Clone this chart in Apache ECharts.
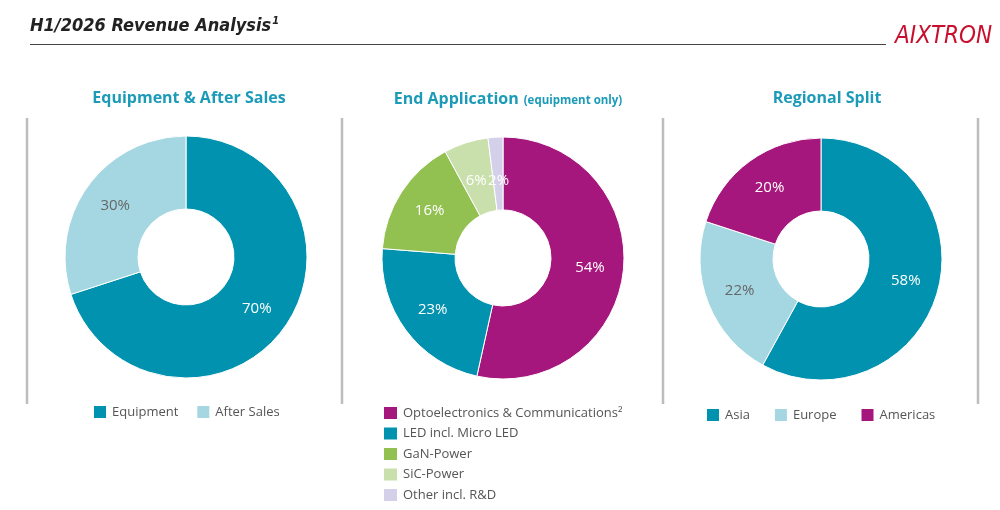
<!DOCTYPE html>
<html>
<head>
<meta charset="utf-8">
<script src="https://cdn.jsdelivr.net/npm/echarts@6/dist/echarts.min.js"></script>
<style>
html,body{margin:0;padding:0;background:#fff;}
#main{width:1000px;height:510px;}
</style>
</head>
<body>
<div id="main"></div>
<script>
// ---- data ----
const salesNames = ['Equipment', 'After Sales'];
const salesValues = [70, 30];
const appNames = ['Optoelectronics & Communications²', 'LED incl. Micro LED', 'GaN-Power', 'SiC-Power', 'Other incl. R&D'];
const appValues = [54, 23, 16, 6, 2];
const regionNames = ['Asia', 'Europe', 'Americas'];
const regionValues = [58, 22, 20];

const TEAL = '#0092ae', LIGHTBLUE = '#a4d7e2', MAGENTA = '#a6177d', GREEN = '#92c151', LIGHTGREEN = '#c9e0ad', LAVENDER = '#d4d0ea';
const FONT = '"Open Sans", "Noto Sans", sans-serif';
const HEAD = '#1c9bb9';

function toData(names, values, colors, labelColors) {
  return names.map((n, i) => ({
    name: n, value: values[i],
    itemStyle: { color: colors[i] },
    label: { color: labelColors[i] }
  }));
}

function pieSeries(center, data) {
  return {
    type: 'pie',
    center: center,
    radius: [48, 121],
    startAngle: 90,
    clockwise: true,
    avoidLabelOverlap: false,
    silent: true,
    itemStyle: { borderColor: '#fff', borderWidth: 1 },
    label: {
      show: true, position: 'inside',
      formatter: p => p.value + '%',
      fontFamily: FONT, fontSize: 15
    },
    labelLine: { show: false },
    emphasis: { disabled: true },
    data: data
  };
}

const appData = toData(appNames, appValues, [MAGENTA, TEAL, GREEN, LIGHTGREEN, LAVENDER], ['#fff', '#fff', '#fff', '#fff', '#fff']);
appData[3].label.offset = [0, 6];
appData[4].label.offset = [1, 10];

const chart = echarts.init(document.getElementById('main'));
const lineStyle = { stroke: '#bdbdbd', lineWidth: 2.5 };
const legendCommon = {
  icon: 'rect', padding: 0, itemWidth: 14, itemHeight: 14,
  textStyle: { color: '#555', fontFamily: FONT, fontSize: 13 }
};
chart.setOption({
  animation: false,
  backgroundColor: '#fff',
  title: [
    { text: 'Equipment & After Sales', left: 184, top: 85, textAlign: 'center',
      textStyle: { color: HEAD, fontFamily: FONT, fontWeight: 'bold', fontSize: 16 } },
    { text: '{a|End Application} {b|(equipment only)}', left: 503, top: 85, textAlign: 'center',
      textStyle: { rich: {
        a: { color: HEAD, fontFamily: FONT, fontWeight: 'bold', fontSize: 16 },
        b: { color: HEAD, fontFamily: FONT, fontWeight: 'bold', fontSize: 11.5, padding: [3, 0, 0, 0] }
      } } },
    { text: 'Regional Split', left: 822, top: 85, textAlign: 'center',
      textStyle: { color: HEAD, fontFamily: FONT, fontWeight: 'bold', fontSize: 16 } }
  ],
  legend: [
    Object.assign({}, legendCommon, { data: salesNames, left: 92, top: 404, orient: 'horizontal', itemGap: 17 }),
    Object.assign({}, legendCommon, { data: appNames, left: 382, top: 405, height: 110, orient: 'vertical', itemWidth: 15, itemGap: 4.5 }),
    Object.assign({}, legendCommon, { data: regionNames, left: 705, top: 407, orient: 'horizontal', itemGap: 23 })
  ],
  series: [
    pieSeries([186, 257], toData(salesNames, salesValues, [TEAL, LIGHTBLUE], ['#fff', '#666'])),
    pieSeries([503, 258], appData),
    pieSeries([821, 259], toData(regionNames, regionValues, [TEAL, LIGHTBLUE, MAGENTA], ['#fff', '#666', '#fff']))
  ],
  graphic: [
    { type: 'text', left: 30, top: 16, style: {
        text: '{t|H1/2026 Revenue Analysis}{s|1}',
        rich: {
          t: { fontFamily: '"Liberation Sans Narrow", "DejaVu Sans Condensed", sans-serif', fontStyle: 'italic', fontWeight: 'bold', fontSize: 18, fill: '#222' },
          s: { fontFamily: '"Liberation Sans Narrow", "DejaVu Sans Condensed", sans-serif', fontStyle: 'italic', fontWeight: 'bold', fontSize: 11, fill: '#222', padding: [0, 0, 10, 1] }
        } } },
    { type: 'line', shape: { x1: 30, y1: 44.5, x2: 886, y2: 44.5 }, style: { stroke: '#444', lineWidth: 1 } },
    { type: 'text', left: 895, top: 25, style: {
        text: 'AIXTRON', fill: '#c8102e',
        font: 'italic 24px "Liberation Sans Narrow", "DejaVu Sans Condensed", sans-serif' } },
    { type: 'line', shape: { x1: 27, y1: 118, x2: 27, y2: 404 }, style: lineStyle },
    { type: 'line', shape: { x1: 342, y1: 118, x2: 342, y2: 404 }, style: lineStyle },
    { type: 'line', shape: { x1: 663, y1: 118, x2: 663, y2: 404 }, style: lineStyle },
    { type: 'line', shape: { x1: 978, y1: 118, x2: 978, y2: 404 }, style: lineStyle }
  ]
});
</script>
</body>
</html>
